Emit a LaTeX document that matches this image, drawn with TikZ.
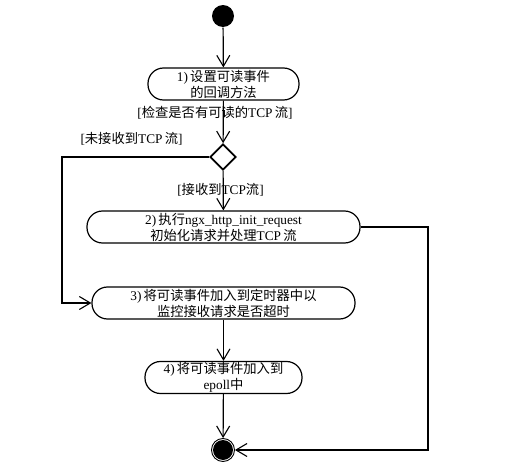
\documentclass[tikz,border=0pt]{standalone}
\usepackage{fontspec}
\setmainfont{Liberation Serif}
\newfontfamily\cjkfont{Noto Sans CJK SC}
\newcommand\zh[1]{{\cjkfont #1}}
\usetikzlibrary{arrows.meta,shapes.geometric}
\begin{document}
\begin{tikzpicture}[x=1pt,y=-1pt,
  line width=1.2pt,
  flow/.style={-{Straight Barb[length=11pt,width=13pt,line width=1.1pt]}},
  act/.style={draw,rounded corners=15.5pt,minimum height=32pt,align=center,font=\fontsize{13.3}{16}\selectfont,inner sep=0pt},
  guard/.style={font=\fontsize{13.3}{15}\selectfont,inner sep=0pt},
  decision/.style={draw,diamond,line width=1.8pt,minimum width=26pt,minimum height=26pt,inner sep=0pt},
  startdot/.style={circle,fill=black,minimum size=22pt,inner sep=0pt},
  enddot/.style={circle,draw,line width=0.9pt,minimum size=23pt,inner sep=0pt,path picture={\fill[black] (path picture bounding box.center) circle (10pt);}}]
\useasboundingbox (0,0) rectangle (515,463);
\node[startdot] (start) at (223,16) {};
\node[act,minimum width=151pt] (a1) at (223.5,84) {1)\,\zh{设置可读事件}\\\zh{的回调方法}};
\node[guard] (g1) at (215,113) {[\zh{检查是否有可读的}TCP\,\zh{流}]};
\node[decision] (dec) at (223,157) {};
\node[guard] (g2) at (131.5,139) {[\zh{未接收到}TCP\,\zh{流}]};
\node[guard] (g3) at (220.5,190) {[\zh{接收到}TCP\zh{流}]};
\node[act,minimum width=273pt] (a2) at (223.5,227) {2)\,\zh{执行}ngx\_http\_init\_request\\\zh{初始化请求并处理}TCP\,\zh{流}};
\node[act,minimum width=263pt] (a3) at (223.5,303) {3)\,\zh{将可读事件加入到定时器中以}\\\zh{监控接收请求是否超时}};
\node[act,minimum width=157pt] (a4) at (223.5,377.5) {4)\,\zh{将可读事件加入到}\\epoll\zh{中}};
\node[enddot] (end) at (223,450) {};
\coordinate (lt) at (62,157);
\coordinate (lb) at (62,303);
\coordinate (rt) at (428,227);
\coordinate (rb) at (428,450);
\draw[flow] (start) -- (a1);
\draw[flow] (a1) -- (dec);
\draw[flow] (dec) -- (a2);
\draw[flow] (dec.west) -- (lt) -- (lb) -- (a3.west);
\draw[flow] (a3) -- (a4);
\draw[flow] (a4) -- (end);
\draw[flow] (a2.east) -- (rt) -- (rb) -- (end.east);
\end{tikzpicture}
\end{document}
